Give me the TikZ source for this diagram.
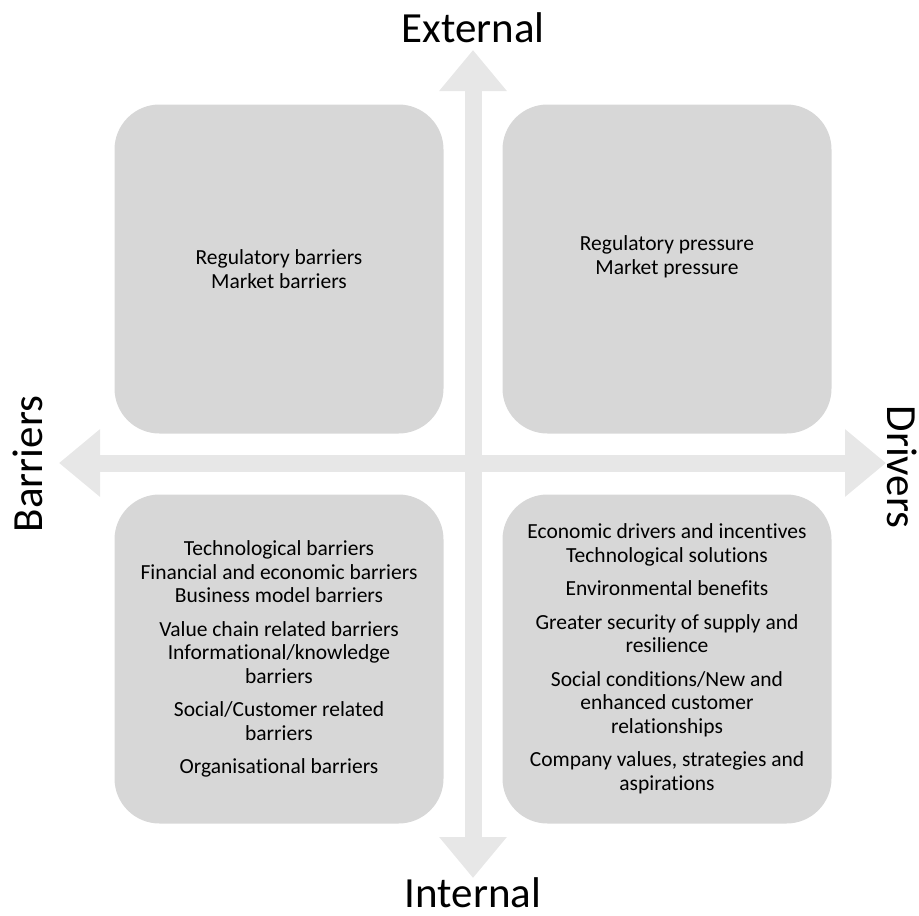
\documentclass[tikz,border=0pt]{standalone}
\usepackage{fontspec}
\setmainfont{Carlito}[Ligatures={NoCommon}]
\usepackage{tikz}
\usetikzlibrary{arrows.meta, positioning}
\definecolor{boxgray}{RGB}{215,215,215}
\definecolor{axisgray}{RGB}{231,231,231}
\tikzstyle{quadrant} = [rectangle, rounded corners=45pt, minimum width=329pt, minimum height=329pt, fill=boxgray, inner sep=0pt]
\tikzstyle{items} = [align=center, inner sep=0pt, font=\fontsize{21.5}{23.5}\selectfont]
\tikzstyle{axislabel} = [anchor=base, inner sep=0pt, font=\fontsize{43}{50}\selectfont]
\tikzstyle{axis} = [line width=17pt, draw=axisgray, {Triangle[width=65pt,length=41pt]}-{Triangle[width=65pt,length=41pt]}]

\begin{document}
\begin{tikzpicture}[x=1pt, y=-1pt]
\useasboundingbox (0,0) rectangle (919,916);

% --- Axes ---
\coordinate (extTip) at (473,50);
\coordinate (intTip) at (473,878);
\coordinate (barTip) at (59,463);
\coordinate (drvTip) at (886,463);
\draw [axis] (intTip) -- (extTip);
\draw [axis] (barTip) -- (drvTip);

% --- Axis labels ---
\node (External) [axislabel] at (473,42) {External};
\node (Internal) [axislabel] at (473,907) {Internal};
\node (Barriers) [axislabel, rotate=90] at (42,464) {Barriers};
\node (Drivers) [axislabel, rotate=-90] at (887,467) {Drivers};

% --- Quadrants ---
\node (ExtBar) [quadrant] at (279,269) {};
\node (ExtDrv) [quadrant] at (667,269) {};
\node (IntBar) [quadrant] at (279,659) {};
\node (IntDrv) [quadrant] at (667,659) {};

% --- Quadrant texts ---
\node (ExtBarText) [items] at (ExtBar) {Regulatory barriers\\Market barriers};
\node (ExtDrvText) [items, yshift=12pt] at (ExtDrv) {Regulatory pressure\\Market pressure};
\node (IntBarText) [items] at (IntBar) {Technological barriers\\Financial and economic barriers\\Business model barriers\\[10pt]
  Value chain related barriers\\Informational/knowledge\\barriers\\[10pt]
  Social/Customer related\\barriers\\[10pt]
  Organisational barriers};
\node (IntDrvText) [items] at (IntDrv) {Economic drivers and incentives\\Technological solutions\\[10pt]
  Environmental benefits\\[10pt]
  Greater security of supply and\\resilience\\[10pt]
  Social conditions/New and\\enhanced customer\\relationships\\[10pt]
  Company values, strategies and\\aspirations};

\end{tikzpicture}
\end{document}
